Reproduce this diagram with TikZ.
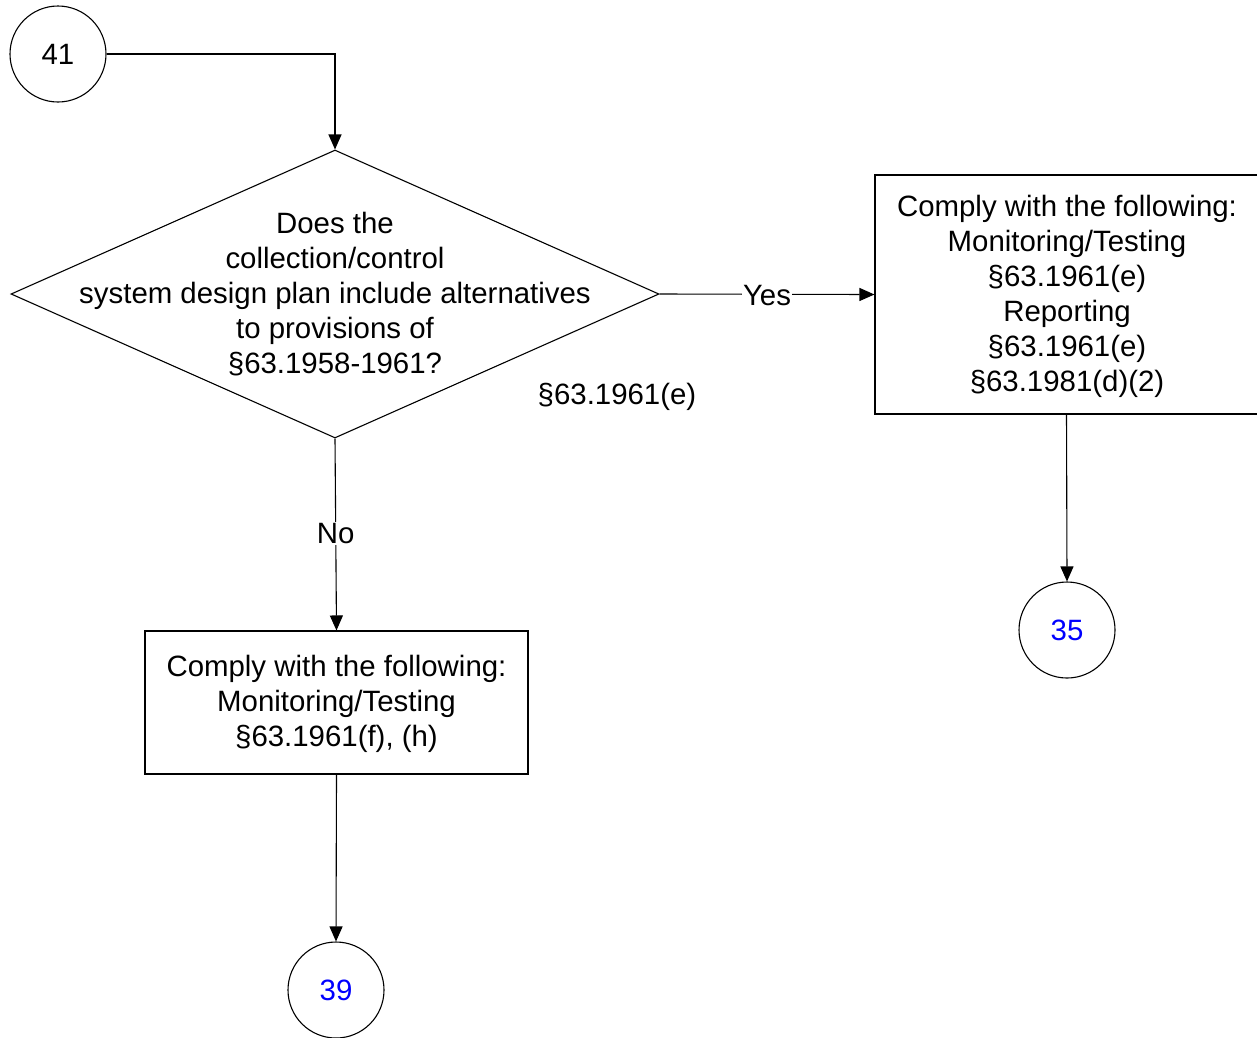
\documentclass[tikz,border=0pt]{standalone}
\usepackage{fontspec}
\setmainfont{Liberation Sans}
\usetikzlibrary{shapes.geometric,arrows.meta}
\begin{document}
\begin{tikzpicture}[x=1pt,y=-1pt,
  every node/.style={font=\fontsize{29.4}{35}\selectfont},
  conn/.style={draw,line width=1.1pt},
  arr/.style={conn,-{Triangle[length=15pt,width=13pt]}},
  term/.style={circle,draw,line width=1.1pt,minimum size=96pt,inner sep=0pt},
  procbox/.style={rectangle,draw,line width=1.1pt,minimum width=383pt,align=center,inner sep=0pt},
  decis/.style={diamond,draw,line width=1.1pt,minimum width=648pt,minimum height=288pt,inner sep=0pt},
  lbl/.style={fill=white,inner sep=1pt}]
\useasboundingbox (0,0) rectangle (1257,1037);
\node[term] (c41) at (58,54) {41};
\node[decis] (q) at (335,294) {};
\node[align=center] (qt) at (335,294.5) {Does the\\collection/control\\system design plan include alternatives\\to provisions of\\§63.1958-1961?};
\node[procbox,minimum height=239pt] (br) at (1066.5,294.5) {};
\node[align=center] (brt) at (1067,296) {Comply with the following:\\Monitoring/Testing\\§63.1961(e)\\Reporting\\§63.1961(e)\\§63.1981(d)(2)};
\node[procbox,minimum height=143pt] (bl) at (336.5,702.5) {};
\node[align=center] (blt) at (336.5,703.5) {Comply with the following:\\Monitoring/Testing\\§63.1961(f), (h)};
\node[term,text=blue] (c35) at (1067,630) {35};
\node[term,text=blue] (c39) at (336,990) {39};
\node (ref) at (617,397) {§63.1961(e)};
\draw[arr] (c41.east) -| (q.north);
\draw[arr] (q.east) -- node[lbl,pos=0.5,yshift=-1pt] {Yes} (br.west);
\draw[arr] (q.south) -- node[lbl,pos=0.49,yshift=-1pt] {No} (bl.north);
\draw[arr] (br.south) -- (c35.north);
\draw[arr] (bl.south) -- (c39.north);
\end{tikzpicture}
\end{document}
